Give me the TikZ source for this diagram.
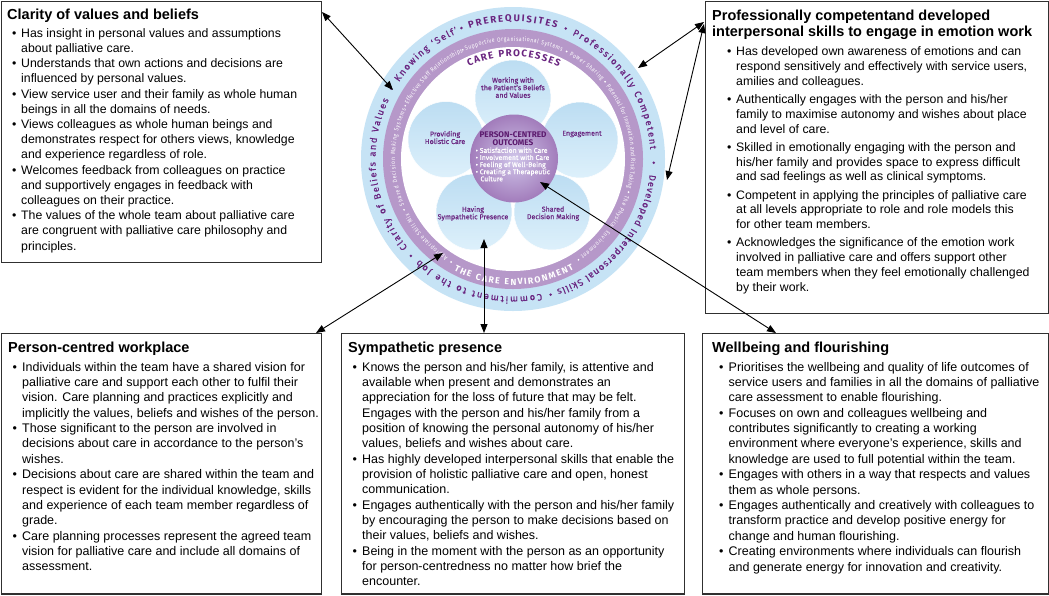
\documentclass[tikz,border=0pt]{standalone}
\usepackage{fontspec}
\setmainfont{Liberation Sans}
\newfontfamily\dfont{Fira Sans}
\newfontfamily\dfontm[FakeBold=0.35]{Fira Sans}
\newfontfamily\dcond[FakeStretch=0.82]{Fira Sans}
\usetikzlibrary{arrows.meta,decorations.text,shadings}
\definecolor{ringblue}{HTML}{C6E3F5}
\definecolor{ringpurple}{HTML}{B698C9}
\definecolor{txtpurple}{HTML}{6A2580}
\definecolor{ctrpurple}{HTML}{5C1A6E}
\definecolor{petalA}{HTML}{BCDDF2}
\definecolor{petalB}{HTML}{DDF0FB}
\definecolor{centerIn}{HTML}{D0C6EA}
\definecolor{centerOut}{HTML}{A27CBB}
\definecolor{boxline}{HTML}{303030}
\newlength\bw
\setlength\bw{9pt}
\newcommand\bu{\makebox[\bw][l]{•}}
\newcommand\ct{\hspace*{\bw}}
\newcommand\ringtxt[5]{\path[decorate,decoration={text along path,text align=fit to path,text={|#4|#5}}] (O) ++(#2:#1) arc[start angle=#2,end angle=#3,radius=#1];}
\begin{document}
\begin{tikzpicture}[x=1pt,y=1pt,
  box/.style={draw=boxline, line width=1.2pt, inner sep=0, anchor=north west},
  ttl/.style={anchor=base west, inner sep=0, font=\fontsize{14.5}{17}\selectfont\bfseries},
  body/.style={anchor=north west, inner sep=0, align=left, font=\fontsize{12.3}{15.2}\selectfont},
  bodyb/.style={body, font=\fontsize{12.3}{14.8}\selectfont},
  bodyc/.style={body, font=\fontsize{12.5}{15.2}\selectfont\setlength\bw{9.5pt}},
  arr/.style={{Triangle[length=9pt,width=7pt]}-{Triangle[length=9pt,width=7pt]}, line width=0.9pt, black},
  petal/.style={circle, minimum size=76pt, inner sep=0, top color=petalA, bottom color=petalB, draw=white, line width=0.5pt},
  ptext/.style={align=center, inner sep=0, font=\dfontm\fontsize{7.1}{7.5}\selectfont, text=txtpurple},
]
\useasboundingbox (0,0) rectangle (1049,-595);
\fill[white] (0,0) rectangle (1049,-595);

% ---- central diagram
\coordinate (O) at (513,-159);
\fill[ringblue] (O) circle[radius=152pt];
\fill[ringpurple] (O) circle[radius=130pt];
\fill[white] (O) circle[radius=112pt];

% outer ring text (clockwise)
\ringtxt{137.5pt}{108.5}{71.5}{\dfont\bfseries\fontsize{9.6}{9.6}\selectfont\color{txtpurple}}{PREREQUISITES}
\ringtxt{137.5pt}{64.5}{4}{\dfontm\fontsize{9.4}{9.4}\selectfont\color{txtpurple}}{Professionally Competent}
\ringtxt{137.5pt}{-6.5}{-71.5}{\dfontm\fontsize{9.4}{9.4}\selectfont\color{txtpurple}}{Developed Interpersonal Skills}
\ringtxt{137.5pt}{-78}{-133}{\dfontm\fontsize{9.4}{9.4}\selectfont\color{txtpurple}}{Commitment to the Job}
\ringtxt{137.5pt}{-140}{-205.5}{\dfontm\fontsize{9.4}{9.4}\selectfont\color{txtpurple}}{Clarity of Beliefs and Values}
\ringtxt{137.5pt}{-214}{-246.5}{\dfontm\fontsize{9.4}{9.4}\selectfont\color{txtpurple}}{Knowing ‘Self’}
\foreach \a in {111.5,68,-1.5,-74.5,-136.5,150}
  \fill[txtpurple] (O) ++(\a:140.8pt) circle[radius=1.4pt];

% purple ring text
\ringtxt{118pt}{113.5}{65.5}{\dcond\fontsize{6.2}{6.2}\selectfont\color{white}}{Supportive Organisational Systems}
\ringtxt{118pt}{61.5}{41.5}{\dcond\fontsize{6.2}{6.2}\selectfont\color{white}}{Power Sharing}
\ringtxt{118pt}{38}{-14.5}{\dcond\fontsize{6.2}{6.2}\selectfont\color{white}}{Potential for Innovation and Risk Taking}
\ringtxt{118pt}{-18}{-55}{\dcond\fontsize{6.2}{6.2}\selectfont\color{white}}{The Physical Environment}
\ringtxt{118pt}{-123.5}{-152.5}{\dcond\fontsize{6.2}{6.2}\selectfont\color{white}}{Appropriate Skill Mix}
\ringtxt{118pt}{-157}{-205}{\dcond\fontsize{6.2}{6.2}\selectfont\color{white}}{Shared Decision Making Systems}
\ringtxt{118pt}{-207.5}{-245}{\dcond\fontsize{6.2}{6.2}\selectfont\color{white}}{Effective Staff Relationships}
\foreach \a in {114.7,63.5,40,-16,-57,-121,-155,-206.3}
  \fill[white] (O) ++(\a:120.2pt) circle[radius=0.95pt];
% care environment (counter-clockwise)
\ringtxt{126pt}{-118}{-61}{\dfont\bfseries\fontsize{8.8}{8.8}\selectfont\color{white}}{THE CARE ENVIRONMENT}
% care processes
\ringtxt{102.5pt}{115.5}{63.5}{\dfont\bfseries\fontsize{9.8}{9.8}\selectfont\color{txtpurple}}{CARE PROCESSES}

% petals
\node[petal] (p1) at (513,-98) {};
\node[petal] (p2) at (446,-139.5) {};
\node[petal] (p3) at (580,-140) {};
\node[petal] (p4) at (474,-212) {};
\node[petal] (p5) at (552,-212) {};
\node[circle, minimum size=88pt, inner sep=0, inner color=centerIn, outer color=centerOut] (co) at (514,-158.5) {};

\node[ptext] (t1) at (513,-87.5) {Working with\\the Patient’s Beliefs\\and Values};
\node[ptext] (t2) at (445,-137.5) {Providing\\Holistic Care};
\node[ptext] (t3) at (582,-134) {Engagement};
\node[ptext] (t4) at (473,-213.5) {Having\\Sympathetic Presence};
\node[ptext] (t5) at (553,-213.5) {Shared\\Decision Making};
\node[align=center, inner sep=0, font=\dfont\bfseries\fontsize{8.2}{8}\selectfont, text=ctrpurple] (c1) at (513,-139) {PERSON-CENTRED\\OUTCOMES};
\node[anchor=north west, align=left, inner sep=0, font=\dfontm\fontsize{6.9}{7.1}\selectfont, text=white] (c2) at (475.5,-147.3)
 {• Satisfaction with Care\\• Involvement with Care\\• Feeling of Well-Being\\• Creating a Therapeutic\\\hspace*{4.8pt}Culture};

% ---- boxes
\node[box, minimum width=320.4pt, minimum height=261.4pt] (b1) at (0.6,-0.6) {};
\node[box, minimum width=343.4pt, minimum height=312.4pt] (b2) at (705,-0.6) {};
\node[box, minimum width=320.4pt, minimum height=260.4pt] (b3) at (0.6,-333) {};
\node[box, minimum width=343pt, minimum height=260.4pt] (b4) at (341,-333) {};
\node[box, minimum width=346.4pt, minimum height=260.4pt] (b5) at (702,-333) {};

\node[ttl] (h1) at (7,-19) {Clarity of values and beliefs};
\node[ttl] (h2a) at (712,-20) {Professionally competentand developed};
\node[ttl] (h2b) at (712,-36) {interpersonal skills to engage in emotion work};
\node[ttl] (h3) at (8,-352.5) {Person-centred workplace};
\node[ttl] (h4) at (348,-352.5) {Sympathetic presence};
\node[ttl] (h5) at (712,-352.5) {Wellbeing and flourishing};

\node[body] (x1) at (12,-28.1) {\bu Has insight in personal values and assumptions\\
\ct about palliative care.\\
\bu Understands that own actions and decisions are\\
\ct influenced by personal values.\\
\bu View service user and their family as whole human\\
\ct beings in all the domains of needs.\\
\bu Views colleagues as whole human beings and\\
\ct demonstrates respect for others views, knowledge\\
\ct and experience regardless of role.\\
\bu Welcomes feedback from colleagues on practice\\
\ct and supportively engages in feedback with\\
\ct colleagues on their practice.\\
\bu The values of the whole team about palliative care\\
\ct are congruent with palliative care philosophy and\\
\ct principles.};

\node[bodyb] (x2) at (727,-46.8) {\bu Has developed own awareness of emotions and can\\
\ct respond sensitively and effectively with service users,\\
\ct amilies and colleagues.\\[3.3pt]
\bu Authentically engages with the person and his/her\\
\ct family to maximise autonomy and wishes about place\\
\ct and level of care.\\[3.3pt]
\bu Skilled in emotionally engaging with the person and\\
\ct his/her family and provides space to express difficult\\
\ct and sad feelings as well as clinical symptoms.\\[3.3pt]
\bu Competent in applying the principles of palliative care\\
\ct at all levels appropriate to role and role models this\\
\ct for other team members.\\[3.3pt]
\bu Acknowledges the significance of the emotion work\\
\ct involved in palliative care and offers support other\\
\ct team members when they feel emotionally challenged\\
\ct by their work.};

\node[bodyc] (x3) at (12.5,-362.2) {\bu Individuals within the team have a shared vision for\\
\ct palliative care and support each other to fulfil their\\
\ct vision. Care planning and practices explicitly and\\
\ct implicitly the values, beliefs and wishes of the person.\\[0.5pt]
\bu Those significant to the person are involved in\\
\ct decisions about care in accordance to the person’s\\
\ct wishes.\\[0.5pt]
\bu Decisions about care are shared within the team and\\
\ct respect is evident for the individual knowledge, skills\\
\ct and experience of each team member regardless of\\
\ct grade.\\[0.5pt]
\bu Care planning processes represent the agreed team\\
\ct vision for palliative care and include all domains of\\
\ct assessment.};

\node[bodyc] (x4) at (352.5,-362.2) {\bu Knows the person and his/her family, is attentive and\\
\ct available when present and demonstrates an\\
\ct appreciation for the loss of future that may be felt.\\
\ct Engages with the person and his/her family from a\\
\ct position of knowing the personal autonomy of his/her\\
\ct values, beliefs and wishes about care.\\[0.5pt]
\bu Has highly developed interpersonal skills that enable the\\
\ct provision of holistic palliative care and open, honest\\
\ct communication.\\[0.5pt]
\bu Engages authentically with the person and his/her family\\
\ct by encouraging the person to make decisions based on\\
\ct their values, beliefs and wishes.\\[0.5pt]
\bu Being in the moment with the person as an opportunity\\
\ct for person-centredness no matter how brief the\\
\ct encounter.};

\node[bodyc] (x5) at (719,-362.2) {\bu Prioritises the wellbeing and quality of life outcomes of\\
\ct service users and families in all the domains of palliative\\
\ct care assessment to enable flourishing.\\[0.5pt]
\bu Focuses on own and colleagues wellbeing and\\
\ct contributes significantly to creating a working\\
\ct environment where everyone’s experience, skills and\\
\ct knowledge are used to full potential within the team.\\[0.5pt]
\bu Engages with others in a way that respects and values\\
\ct them as whole persons.\\[0.5pt]
\bu Engages authentically and creatively with colleagues to\\
\ct transform practice and develop positive energy for\\
\ct change and human flourishing.\\[0.5pt]
\bu Creating environments where individuals can flourish\\
\ct and generate energy for innovation and creativity.};

% ---- connectors
\coordinate (e1) at (322,-12);   \coordinate (r1) at (393,-90);
\coordinate (e2) at (704,-22);   \coordinate (r2) at (638,-68);
\coordinate (e3) at (704,-24);   \coordinate (r3) at (667,-180);
\coordinate (e4) at (316,-333);  \coordinate (r4) at (443,-253);
\coordinate (e5) at (484,-333);  \coordinate (r5) at (484,-239);
\coordinate (e6) at (776,-333);  \coordinate (r6) at (540,-182);
\draw[arr] (e1) -- (r1);
\draw[arr] (e2) -- (r2);
\draw[arr] (e3) -- (r3);
\draw[arr] (e4) -- (r4);
\draw[arr] (e5) -- (r5);
\draw[arr] (e6) -- (r6);
\end{tikzpicture}
\end{document}
